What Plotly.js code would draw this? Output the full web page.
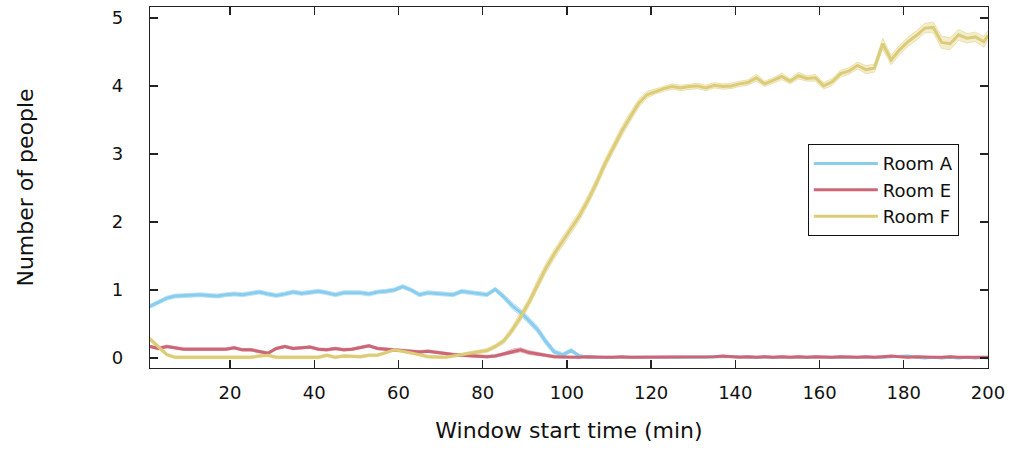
<!DOCTYPE html>
<html>
<head>
<meta charset="utf-8">
<script src="https://cdn.plot.ly/plotly-3.0.1.min.js"></script>
<style>html,body{margin:0;padding:0;background:#fff;}#chart{width:1009px;height:449px;}</style>
</head>
<body>
<div id="chart"></div>
<script>
// Window start time (min)
var timeMin = [1,3,5,7,9,11,13,15,17,19,21,23,25,27,29,31,33,35,37,39,41,43,45,47,49,51,53,55,57,59,61,63,65,67,69,71,73,75,77,79,81,83,85,87,89,91,93,95,97,99,101,103,105,107,109,111,113,115,117,119,121,123,125,127,129,131,133,135,137,139,141,143,145,147,149,151,153,155,157,159,161,163,165,167,169,171,173,175,177,179,181,183,185,187,189,191,193,195,197,199,200];

var roomA = [0.76,0.82,0.88,0.91,0.92,0.92,0.93,0.92,0.91,0.93,0.94,0.93,0.95,0.97,0.94,0.92,0.94,0.97,0.95,0.97,0.98,0.96,0.93,0.96,0.96,0.96,0.94,0.97,0.98,1.00,1.05,1.00,0.93,0.96,0.95,0.94,0.93,0.98,0.96,0.94,0.93,1.01,0.90,0.77,0.67,0.55,0.42,0.24,0.09,0.045,0.11,0.03,0.01,0.01,0.01,0.00,0.01,0.00,0.01,0.00,0.01,0.00,0.01,0.01,0.00,0.01,0.01,0.02,0.02,0.03,0.02,0.01,0.01,0.00,0.01,0.01,0.00,0.01,0.01,0.00,0.01,0.01,0.00,0.01,0.01,0.00,0.01,0.01,0.02,0.03,0.03,0.01,0.00,0.01,0.00,0.01,0.00,0.01,0.00,0.01,0.00];
var roomE = [0.17,0.14,0.17,0.15,0.13,0.13,0.13,0.13,0.13,0.13,0.15,0.12,0.12,0.09,0.07,0.14,0.17,0.14,0.15,0.16,0.13,0.12,0.14,0.12,0.13,0.15,0.18,0.14,0.13,0.12,0.11,0.10,0.09,0.10,0.08,0.07,0.05,0.04,0.03,0.02,0.02,0.03,0.06,0.10,0.12,0.08,0.06,0.04,0.02,0.015,0.01,0.01,0.02,0.01,0.01,0.01,0.02,0.01,0.01,0.01,0.01,0.02,0.01,0.01,0.02,0.01,0.01,0.02,0.03,0.02,0.01,0.02,0.01,0.02,0.01,0.02,0.01,0.02,0.01,0.02,0.01,0.01,0.02,0.01,0.01,0.02,0.01,0.02,0.03,0.02,0.01,0.02,0.01,0.01,0.01,0.02,0.01,0.01,0.02,0.01,0.01];
var roomF = [0.28,0.16,0.05,0.01,0.01,0.01,0.02,0.01,0.02,0.01,0.01,0.02,0.01,0.03,0.04,0.01,0.01,0.01,0.01,0.02,0.01,0.04,0.01,0.03,0.02,0.02,0.04,0.04,0.08,0.12,0.10,0.08,0.05,0.02,0.01,0.01,0.03,0.05,0.07,0.09,0.11,0.17,0.25,0.41,0.60,0.82,1.08,1.32,1.53,1.72,1.91,2.09,2.32,2.57,2.85,3.10,3.33,3.54,3.74,3.87,3.92,3.96,3.99,3.97,3.99,4.00,3.97,4.01,3.99,4.00,4.03,4.05,4.12,4.03,4.08,4.14,4.07,4.15,4.11,4.12,4.00,4.06,4.18,4.22,4.30,4.24,4.26,4.62,4.38,4.53,4.65,4.74,4.85,4.86,4.64,4.62,4.75,4.70,4.72,4.65,4.74];

// half-width of the shaded band around each line
var spreadA = [0.03,0.03,0.03,0.03,0.03,0.03,0.03,0.03,0.03,0.03,0.03,0.03,0.03,0.03,0.03,0.03,0.03,0.03,0.03,0.03,0.03,0.03,0.03,0.03,0.03,0.03,0.03,0.03,0.03,0.03,0.03,0.03,0.03,0.03,0.03,0.03,0.03,0.03,0.03,0.03,0.03,0.03,0.04,0.05,0.05,0.05,0.05,0.05,0.04,0.03,0.03,0.02,0.02,0.01,0.01,0.01,0.01,0.01,0.01,0.01,0.01,0.01,0.01,0.01,0.01,0.01,0.01,0.01,0.01,0.01,0.01,0.01,0.01,0.01,0.01,0.01,0.01,0.01,0.01,0.01,0.01,0.01,0.01,0.01,0.01,0.01,0.01,0.01,0.01,0.01,0.01,0.01,0.01,0.01,0.01,0.01,0.01,0.01,0.01,0.01,0.01];
var spreadE = [0.02,0.02,0.02,0.02,0.02,0.02,0.02,0.02,0.02,0.02,0.02,0.02,0.02,0.02,0.02,0.02,0.02,0.02,0.02,0.02,0.02,0.02,0.02,0.02,0.02,0.02,0.02,0.02,0.02,0.02,0.02,0.02,0.02,0.02,0.02,0.02,0.02,0.02,0.02,0.02,0.02,0.02,0.02,0.03,0.03,0.03,0.02,0.02,0.02,0.01,0.01,0.01,0.01,0.01,0.01,0.01,0.01,0.01,0.01,0.01,0.01,0.01,0.01,0.01,0.01,0.01,0.01,0.01,0.01,0.01,0.01,0.01,0.01,0.01,0.01,0.01,0.01,0.01,0.01,0.01,0.01,0.01,0.01,0.01,0.01,0.01,0.01,0.01,0.01,0.01,0.01,0.01,0.01,0.01,0.01,0.01,0.01,0.01,0.01,0.01,0.01];
var spreadF = [0.03,0.03,0.02,0.02,0.02,0.02,0.02,0.02,0.02,0.02,0.02,0.02,0.02,0.02,0.02,0.02,0.02,0.02,0.02,0.02,0.02,0.02,0.02,0.02,0.02,0.02,0.02,0.02,0.02,0.02,0.02,0.02,0.02,0.02,0.02,0.02,0.02,0.02,0.02,0.02,0.03,0.03,0.04,0.05,0.06,0.06,0.07,0.07,0.07,0.07,0.07,0.07,0.07,0.07,0.07,0.07,0.07,0.07,0.06,0.05,0.04,0.04,0.04,0.04,0.04,0.04,0.04,0.04,0.04,0.04,0.04,0.04,0.05,0.04,0.04,0.05,0.04,0.05,0.04,0.05,0.05,0.05,0.05,0.05,0.05,0.06,0.06,0.08,0.07,0.07,0.07,0.07,0.07,0.08,0.09,0.09,0.08,0.07,0.07,0.08,0.07];

var names = ['Room A', 'Room E', 'Room F'];
var colors = ['#88CCEE', '#CC6677', '#DDCC77'];
var bandFills = ['rgba(136,204,238,0.35)', 'rgba(204,102,119,0.30)', 'rgba(221,204,119,0.35)'];
var bandLines = ['rgba(136,204,238,0.6)', 'rgba(204,102,119,0.5)', 'rgba(221,204,119,0.6)'];
var series = [roomA, roomE, roomF];
var spreads = [spreadA, spreadE, spreadF];

var traces = [];
series.forEach(function (vals, k) {
  var lo = vals.map(function (v, i) { return v - spreads[k][i]; });
  var hi = vals.map(function (v, i) { return v + spreads[k][i]; });
  traces.push({x: timeMin, y: lo, type: 'scatter', mode: 'lines', showlegend: false, hoverinfo: 'skip',
    line: {color: bandLines[k], width: 0.8}});
  traces.push({x: timeMin, y: hi, type: 'scatter', mode: 'lines', showlegend: false, hoverinfo: 'skip',
    fill: 'tonexty', fillcolor: bandFills[k], line: {color: bandLines[k], width: 0.8}});
});
[0, 1, 2].forEach(function (k) {
  traces.push({x: timeMin, y: series[k], type: 'scatter', mode: 'lines', name: names[k],
    line: {color: colors[k], width: 3}});
});

var axisCommon = {
  showgrid: false, zeroline: false, showline: true, linecolor: '#222', linewidth: 1.3,
  mirror: 'ticks', ticks: 'inside', ticklen: 8, tickwidth: 1.3, tickcolor: '#222',
  tickfont: {family: 'DejaVu Sans', size: 18, color: '#111'}
};

var layout = {
  width: 1009, height: 449,
  margin: {l: 150, r: 21, t: 7, b: 81},
  paper_bgcolor: '#fff', plot_bgcolor: '#fff',
  font: {family: 'DejaVu Sans', color: '#111'},
  showlegend: true,
  legend: {x: 0.785, y: 0.62, xanchor: 'left', yanchor: 'top', bgcolor: '#fff', traceorder: 'normal',
    bordercolor: '#111', borderwidth: 1, font: {family: 'DejaVu Sans', size: 18, color: '#111'},
    itemwidth: 64, tracegroupgap: 0},
  xaxis: Object.assign({}, axisCommon, {
    range: [1, 200], tick0: 0, dtick: 20, ticklabelstandoff: 8,
    title: {text: 'Window start time (min)', font: {family: 'DejaVu Sans', size: 22, color: '#111'}, standoff: 20}
  }),
  yaxis: Object.assign({}, axisCommon, {
    range: [-0.147, 5.16], tick0: 0, dtick: 1, ticklabelstandoff: 22,
    title: {text: 'Number of people', font: {family: 'DejaVu Sans', size: 22, color: '#111'}, standoff: 72}
  })
};

Plotly.newPlot('chart', traces, layout, {staticPlot: true, displayModeBar: false});
</script>
</body>
</html>
